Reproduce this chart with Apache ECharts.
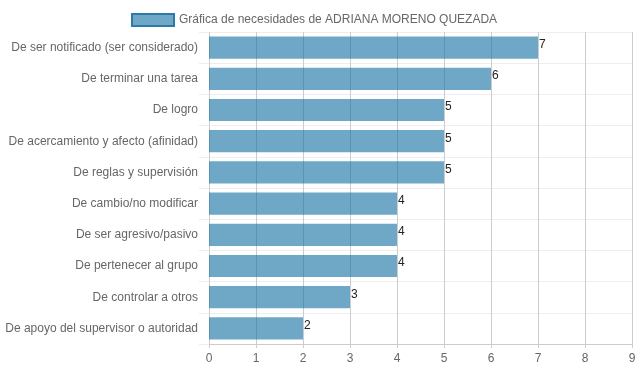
<!DOCTYPE html>
<html>
<head>
<meta charset="utf-8">
<script src="https://cdn.jsdelivr.net/npm/echarts@6/dist/echarts.min.js"></script>
<style>html,body{margin:0;padding:0;background:#fff}#c{width:639px;height:372px}</style>
</head>
<body>
<div id="c"></div>
<script>
const categories = [
  "De ser notificado (ser considerado)",
  "De terminar una tarea",
  "De logro",
  "De acercamiento y afecto (afinidad)",
  "De reglas y supervisión",
  "De cambio/no modificar",
  "De ser agresivo/pasivo",
  "De pertenecer al grupo",
  "De controlar a otros",
  "De apoyo del supervisor o autoridad"
];
const values = [7, 6, 5, 5, 5, 4, 4, 4, 3, 2];
const seriesName = "Gráfica de necesidades de ADRIANA MORENO QUEZADA";

const chart = echarts.init(document.getElementById('c'), null, {renderer: 'canvas'});
const font = "'Liberation Sans', Arial, Helvetica, sans-serif";
chart.setOption({
  animation: false,
  textStyle: {fontFamily: font},
  legend: {
    top: 8, left: 126,
    itemWidth: 42, itemHeight: 12, itemGap: 6,
    textStyle: {color: '#666', fontSize: 12, fontFamily: font},
    data: [{name: seriesName, icon: 'rect', itemStyle: {color: 'rgba(13,110,160,0.6)', borderColor: '#2c7aa8', borderWidth: 2}}]
  },
  grid: {left: 209, right: 7, top: 32, bottom: 28, containLabel: false},
  xAxis: {
    type: 'value', min: 0, max: 9, interval: 1,
    axisLine: {show: true, lineStyle: {color: '#ccc'}},
    axisTick: {show: true, length: 4, lineStyle: {color: '#ccc'}},
    axisLabel: {color: '#666', fontSize: 12, fontFamily: font, margin: 9},
    splitLine: {show: true, lineStyle: {color: '#ccc'}}
  },
  yAxis: {
    type: 'category', inverse: true, data: categories,
    axisLine: {show: false},
    axisTick: {show: true, length: 10, lineStyle: {color: '#eee'}},
    axisLabel: {color: '#666', fontSize: 12, fontFamily: font, margin: 11},
    splitLine: {show: true, lineStyle: {color: '#eee'}}
  },
  series: [{
    name: seriesName, type: 'bar', data: values,
    barCategoryGap: '29%',
    itemStyle: {color: 'rgba(13,110,160,0.6)'},
    label: {show: true, position: 'right', distance: 1, offset: [0, -3], color: '#222', fontSize: 12, fontFamily: font}
  }]
});
</script>
</body>
</html>
